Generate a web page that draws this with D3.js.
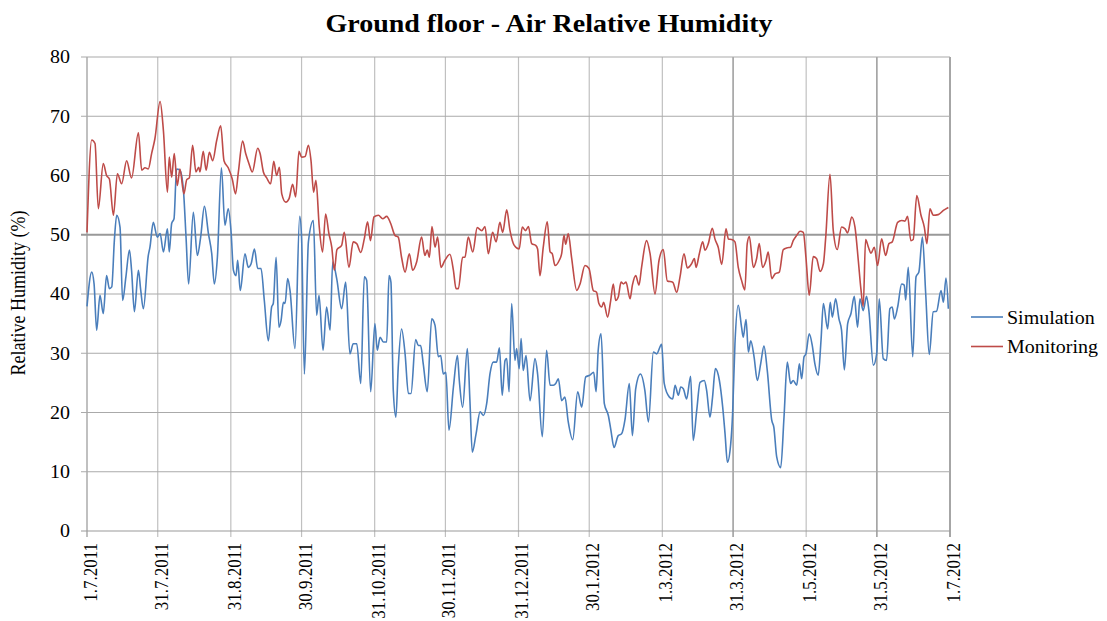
<!DOCTYPE html>
<html>
<head>
<meta charset="utf-8">
<script src="https://cdn.jsdelivr.net/npm/d3@7/dist/d3.min.js"></script>
<style>
  html, body { margin: 0; padding: 0; background: #fff; }
  svg { display: block; }
  svg text { font-family: "Liberation Serif", "DejaVu Serif", serif !important; fill: #000; }
</style>
</head>
<body>
<svg id="chart" width="1107" height="621"></svg>
<script>
// ---- Data (day offset from 1.7.2011, relative humidity %) ----
const simulation = [[0,37.9],[2.0,43.7],[3.0,41.7],[4.1,33.9],[5.5,39.8],[6.9,36.7],[8.3,43.1],[9.5,40.9],[10.5,41.2],[11.6,49.0],[12.6,53.3],[14.0,51.3],[15.1,38.9],[16.5,42.9],[18.0,47.4],[18.9,44.0],[20.1,37.0],[21.8,44.0],[22.8,40.6],[23.9,37.5],[26.0,46.5],[26.7,47.9],[28.1,52.1],[29.8,49.6],[31.0,50.2],[32.4,47.1],[34.1,51.0],[34.9,47.1],[35.9,51.9],[36.9,52.7],[38.0,61.1],[39.4,60.9],[40.9,57.5],[42.0,49.6],[43.1,41.7],[45.1,53.8],[46.8,46.5],[48.2,49.6],[49.8,54.8],[51.5,50.2],[52.9,46.8],[54.0,41.7],[55.3,46.2],[57.0,61.3],[58.5,51.6],[59.9,54.4],[61.1,50.5],[62.1,44.0],[63.2,43.1],[63.9,45.7],[65.0,40.6],[67.0,46.8],[68.4,44.5],[69.6,45.1],[71.0,47.6],[72.4,44.3],[73.8,44.3],[75.2,38.9],[76.9,32.1],[78.3,37.8],[79.0,38.4],[80.2,46.2],[81.4,34.4],[82.3,35.5],[83.3,38.6],[84.0,38.4],[85.1,42.6],[86.1,40.6],[88.2,30.8],[90.2,53.1],[91.0,49.6],[92.2,26.5],[93.9,48.8],[96.0,52.4],[97.4,36.4],[98.4,39.8],[100.1,30.5],[101.6,37.8],[103.1,33.9],[104.2,45.4],[105.9,42.6],[108.0,37.5],[109.7,42.0],[111.5,29.9],[112.9,31.6],[114.4,31.6],[116.1,24.9],[117.6,42.9],[118.6,42.3],[120.3,23.5],[122.1,35.0],[123.1,30.5],[124.3,32.7],[125.7,31.9],[127.1,31.9],[128.1,43.1],[128.9,42.0],[129.9,23.7],[131.0,19.2],[132.0,27.7],[133.4,34.1],[134.9,29.9],[136.3,23.2],[137.4,23.2],[139.4,32.3],[140.5,31.3],[141.5,31.3],[142.6,28.2],[144.3,23.5],[146.2,35.8],[147.6,34.7],[149.0,29.4],[150.0,29.6],[151.1,26.5],[152.2,26.8],[153.5,17.0],[155.4,24.3],[157.1,29.6],[157.9,25.4],[159.3,20.9],[161.3,30.8],[162.4,22.0],[163.4,13.3],[165.0,16.4],[166.7,20.1],[168.1,19.5],[169.5,21.5],[170.9,26.5],[172.3,28.5],[173.7,28.5],[174.9,30.9],[176.1,22.9],[177.3,28.8],[178.0,29.1],[179.0,23.5],[180.1,38.4],[181.5,28.8],[182.2,30.8],[183.3,27.4],[184.1,32.5],[185.0,27.1],[186.2,29.6],[187.9,22.0],[190.0,29.1],[191.1,26.5],[193.1,15.9],[194.9,30.5],[196.4,24.6],[197.8,24.6],[198.8,24.9],[199.9,25.7],[201.3,22.0],[202.7,22.6],[204.1,18.4],[206.0,15.4],[208.1,23.5],[209.8,20.9],[211.5,26.0],[213.3,26.3],[214.9,26.8],[215.9,23.5],[216.8,30.5],[218.0,33.3],[219.4,21.5],[221.1,19.5],[222.2,17.0],[223.5,14.1],[225.3,16.1],[226.7,16.4],[228.2,18.9],[230.0,24.9],[231.3,16.1],[232.7,24.0],[234.7,26.5],[236.6,23.7],[238.1,18.4],[240.2,30.2],[241.6,29.9],[243.7,31.5],[244.8,24.9],[247.0,22.6],[248.4,22.3],[249.4,24.6],[250.8,22.9],[251.8,24.3],[252.9,24.0],[254.3,22.3],[256.0,26.1],[257.1,15.3],[258.6,20.4],[260.0,25.1],[261.8,25.4],[262.8,23.7],[264.2,19.2],[265.3,22.6],[266.5,27.4],[268.2,25.4],[269.6,20.9],[270.6,16.4],[271.6,11.6],[273.0,14.7],[273.8,19.8],[274.8,31.6],[276.2,38.1],[277.6,34.4],[278.3,32.7],[279.5,35.7],[280.5,30.2],[281.5,32.1],[282.9,29.4],[284.3,25.4],[285.7,28.2],[287.1,31.2],[288.5,27.1],[290.4,18.7],[291.3,17.5],[292.5,12.5],[294.2,10.7],[295.6,19.2],[297.0,28.5],[298.4,24.9],[299.5,25.4],[301.0,24.6],[302.1,28.2],[303.1,25.7],[304.1,29.4],[304.9,29.9],[306.3,33.3],[307.6,31.3],[308.7,28.2],[310.1,26.3],[311.3,32.2],[312.3,38.4],[314.1,34.1],[315.2,38.6],[316.1,36.1],[317.5,39.2],[318.9,35.8],[320.0,33.9],[321.2,27.2],[322.6,35.0],[324.0,36.7],[325.4,39.6],[326.8,34.4],[327.8,39.2],[329.2,37.2],[330.6,39.6],[331.6,37.2],[333.5,28.0],[334.9,29.9],[336.0,39.2],[337.7,29.1],[339.1,28.8],[340.5,37.5],[341.5,37.8],[342.4,35.8],[343.8,37.8],[345.5,41.7],[346.6,41.5],[347.2,39.0],[348.3,44.5],[350.2,29.4],[351.6,42.9],[352.8,43.7],[354.3,49.6],[355.7,40.0],[357.2,29.8],[358.9,37.0],[360.3,37.1],[362.2,40.6],[363.2,38.6],[364.3,42.7],[365.3,37.5]];

const monitoring = [[0,50.4],[2.0,66.0],[3.4,65.4],[4.8,54.4],[6.9,62.0],[8.3,60.0],[9.5,59.4],[11.2,53.3],[12.9,60.3],[14.7,58.6],[16.8,62.5],[18.9,59.6],[21.8,67.2],[23.2,60.9],[24.6,61.3],[26.0,61.1],[27.4,63.7],[28.8,66.2],[31.0,72.5],[32.4,67.6],[34.1,57.2],[34.9,63.1],[35.9,59.7],[37.0,63.7],[38.3,58.3],[39.4,61.1],[41.1,56.9],[42.3,59.3],[43.4,59.6],[44.8,65.1],[46.2,60.6],[47.4,61.4],[47.9,60.6],[49.3,64.1],[50.5,60.9],[51.9,63.9],[53.3,62.5],[55.0,65.9],[56.7,68.4],[58.1,62.5],[59.9,61.3],[61.6,59.4],[63.0,56.9],[64.2,60.6],[66.0,65.8],[67.3,63.7],[68.7,62.0],[70.1,60.6],[72.4,64.6],[73.4,63.7],[74.8,60.6],[76.2,59.6],[77.9,58.6],[79.2,62.4],[80.4,60.0],[81.6,61.4],[82.6,56.9],[84.3,55.5],[85.7,56.1],[87.2,58.5],[88.5,56.4],[89.9,64.1],[91.0,63.1],[92.5,63.2],[93.9,65.1],[95.0,62.5],[96.1,57.2],[97.1,59.2],[98.5,51.3],[99.9,47.1],[101.2,53.5],[102.6,50.2],[103.8,47.9],[104.9,44.0],[106.0,47.5],[108.0,48.2],[109.1,50.4],[111.1,44.5],[112.9,48.8],[114.4,48.5],[116.1,47.0],[117.6,49.3],[119.0,52.2],[120.2,49.0],[121.7,53.0],[123.6,53.3],[125.4,52.7],[127.1,53.1],[128.8,51.9],[130.6,49.9],[132.0,49.6],[133.4,46.2],[134.9,43.7],[136.7,46.8],[138.1,44.0],[139.8,45.4],[141.9,49.6],[143.3,46.5],[144.3,47.4],[145.2,46.2],[146.3,51.4],[147.6,47.9],[148.7,49.6],[150.1,44.5],[151.8,45.7],[153.9,46.7],[155.4,44.0],[156.5,40.9],[157.5,40.9],[159.3,46.2],[160.3,46.2],[161.7,49.6],[163.6,47.1],[165.5,51.2],[167.4,50.7],[168.8,51.4],[170.2,46.8],[172.0,50.4],[173.5,48.8],[175.1,52.1],[176.3,50.4],[178.0,54.2],[179.4,50.7],[181.2,48.2],[183.3,47.6],[184.6,51.3],[186.0,50.7],[187.2,51.4],[188.6,48.5],[190.3,48.2],[191.1,47.6],[192.1,43.1],[193.5,47.9],[195.2,52.2],[196.4,47.1],[197.3,46.8],[198.5,44.8],[200.3,45.7],[201.3,46.8],[202.3,49.9],[203.0,48.4],[204.1,50.2],[205.5,46.2],[207.7,40.6],[209.1,41.7],[211.2,44.8],[212.9,44.3],[214.7,40.6],[216.1,40.3],[217.1,38.4],[218.3,37.8],[219.1,38.6],[220.8,36.1],[222.1,38.9],[223.2,41.7],[224.2,38.9],[225.3,39.5],[226.5,42.0],[227.5,41.7],[228.6,42.0],[230.3,39.2],[231.3,41.5],[232.7,43.1],[234.1,41.5],[235.2,44.5],[237.3,49.0],[238.8,46.8],[240.9,40.0],[242.6,45.7],[244.4,47.5],[246.1,42.2],[248.4,42.0],[250.1,40.3],[251.5,42.9],[253.2,46.8],[254.6,44.4],[256.4,45.1],[257.6,46.0],[258.3,44.5],[259.7,46.8],[261.1,48.8],[262.1,47.4],[263.5,48.5],[265.2,51.1],[266.3,49.3],[267.7,47.9],[269.2,45.0],[271.0,51.0],[272.0,49.3],[273.4,49.2],[274.8,48.8],[276.2,44.5],[277.6,42.3],[279.0,40.7],[280.0,48.5],[280.9,49.7],[282.6,44.5],[284.0,46.0],[285.1,48.5],[286.5,44.5],[288.0,45.7],[288.9,47.1],[290.4,42.6],[291.8,43.4],[293.6,43.7],[295.3,47.5],[297.0,47.8],[298.4,47.9],[299.5,49.0],[301.0,49.9],[302.4,50.6],[303.8,50.4],[304.9,46.2],[306.3,39.8],[308.0,46.3],[309.4,46.0],[310.9,43.8],[312.3,45.1],[313.3,49.6],[315.1,60.2],[316.5,50.7],[318.2,47.5],[320.0,51.3],[321.5,51.0],[322.6,50.3],[324.3,53.0],[325.7,51.3],[327.1,45.7],[328.2,40.9],[329.2,37.9],[330.2,49.2],[331.4,47.9],[332.5,46.9],[333.9,47.9],[335.3,44.8],[337.0,49.3],[338.7,46.5],[340.1,48.5],[341.5,48.8],[343.8,52.1],[345.5,52.4],[346.9,52.3],[348.0,53.1],[349.4,49.0],[350.4,49.2],[351.9,56.6],[353.7,53.3],[355.1,51.3],[356.2,48.5],[357.5,54.4],[358.9,53.3],[361.0,53.4],[363.2,54.1],[365.3,54.6]];

const xTickLabels = ["1.7.2011","31.7.2011","31.8.2011","30.9.2011","31.10.2011","30.11.2011","31.12.2011","30.1.2012","1.3.2012","31.3.2012","1.5.2012","31.5.2012","1.7.2012"];
const yTicks = [0,10,20,30,40,50,60,70,80];
const seriesNames = ["Simulation","Monitoring"];
const titleText = "Ground floor - Air Relative Humidity";
const yTitle = "Relative Humidity (%)";

// ---- Layout ----
const plotL = 87, plotR = 950, plotT = 57, plotB = 531;
const SX = 1.11; // horizontal glyph stretch of the original
const FONT = "'Liberation Serif', 'DejaVu Serif', serif";
const colors = {Simulation: "#4a7ebb", Monitoring: "#be4b48"};

const parse = d3.utcParse("%d.%m.%Y");
const startMs = Date.UTC(2011, 6, 1);
const toDate = d => new Date(startMs + d * 864e5);
const tickDates = xTickLabels.map(parse);

const x = d3.scaleUtc().domain([tickDates[0], tickDates[tickDates.length - 1]]).range([plotL, plotR]);
const y = d3.scaleLinear().domain([0, 80]).range([plotB, plotT]);

const svg = d3.select("#chart");
svg.append("rect").attr("width", 1107).attr("height", 621).attr("fill", "#fff");

// vertical grid
const darkV = new Set(["31.3.2012", "31.5.2012"]);
svg.append("g").selectAll("line").data(xTickLabels).join("line")
  .attr("x1", (d,i) => x(tickDates[i])).attr("x2", (d,i) => x(tickDates[i]))
  .attr("y1", plotT).attr("y2", plotB + 6)
  .attr("stroke", (d,i) => darkV.has(d) ? "#808080" : (i === xTickLabels.length - 1 ? "#a6a6a6" : "#c0c0c0"))
  .attr("stroke-width", (d,i) => (i === 0 || i === xTickLabels.length - 1) ? 2 : 1.2);

// horizontal grid
svg.append("g").selectAll("line").data(yTicks).join("line")
  .attr("x1", plotL - 6).attr("x2", plotR)
  .attr("y1", d => y(d)).attr("y2", d => y(d))
  .attr("stroke", d => d === 50 ? "#999" : (d === 0 ? "#999" : "#aaa"))
  .attr("stroke-width", d => d === 50 ? 2 : 1.2);

// y axis labels
const yAxis = d3.axisLeft(y).tickValues(yTicks).tickSize(0).tickPadding(0);
const gy = svg.append("g").attr("transform", `translate(${plotL - 17},0)`).call(yAxis)
  .attr("font-family", FONT).attr("font-size", 18);
gy.select(".domain").remove();
gy.selectAll(".tick text")
  .attr("x", 0).attr("dy", "0.32em")
  .attr("transform", `scale(${SX},1)`)
  .style("font-family", FONT).style("font-size", "18px").attr("fill", "#000");

// x axis labels
const xAxis = d3.axisBottom(x).tickValues(tickDates).tickSize(0).tickFormat((d,i) => xTickLabels[i]);
const gx = svg.append("g").attr("transform", `translate(0,${plotB})`).call(xAxis)
  .attr("font-family", FONT).attr("font-size", 17);
gx.select(".domain").remove();
gx.selectAll(".tick text")
  .attr("x", 0).attr("y", 0).attr("dy", "0.5em")
  .attr("text-anchor", "end")
  .attr("transform", `translate(0,12) scale(${SX},1) rotate(-90)`)
  .style("font-family", FONT).style("font-size", "17px").attr("fill", "#000");

// lines
const line = d3.line().x(d => x(toDate(d[0]))).y(d => y(d[1])).curve(d3.curveMonotoneX);
svg.append("path").datum(simulation).attr("d", line)
  .attr("fill", "none").attr("stroke", colors.Simulation).attr("stroke-width", 1.6).attr("stroke-linejoin", "round");
svg.append("path").datum(monitoring).attr("d", line)
  .attr("fill", "none").attr("stroke", colors.Monitoring).attr("stroke-width", 1.6).attr("stroke-linejoin", "round");

// title
svg.append("text").attr("transform", `translate(549,31.5) scale(1.12,1)`)
  .attr("text-anchor", "middle").style("font-family", FONT).style("font-size", "25px").style("font-weight", "bold")
  .text(titleText);

// y title
svg.append("text").attr("transform", `translate(25,293) scale(${SX},1) rotate(-90)`)
  .attr("text-anchor", "middle").style("font-family", FONT).style("font-size", "18px").text(yTitle);

// legend
const lg = svg.append("g");
seriesNames.forEach((name, i) => {
  const ly = 317 + i * 29.5;
  lg.append("line").attr("x1", 971).attr("x2", 1003).attr("y1", ly).attr("y2", ly)
    .attr("stroke", colors[name]).attr("stroke-width", 1.6);
  lg.append("text").attr("transform", `translate(1007,${ly + 6.5}) scale(${SX},1)`)
    .style("font-family", FONT).style("font-size", "18px").text(name);
});
</script>
</body>
</html>
